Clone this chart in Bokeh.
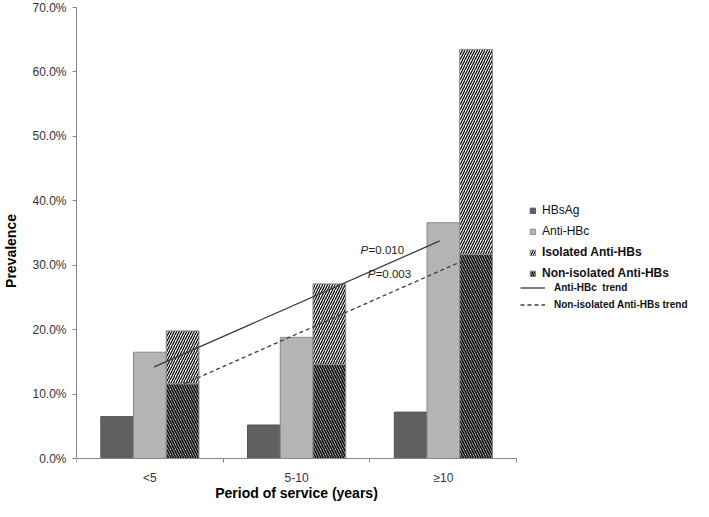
from bokeh.plotting import figure
from bokeh.models import (Range1d, FixedTicker, PrintfTickFormatter, Legend,
                          LegendItem, ColumnDataSource)
from bokeh.core.properties import value
from bokeh.embed import file_html
from bokeh.resources import INLINE
import numpy as np

# ---------------- data ----------------
categories = ["<5", "5-10", "≥10"]
hbsag = [6.5, 5.2, 7.2]
anti_hbc = [16.5, 18.8, 36.6]
non_isolated_anti_hbs = [11.6, 14.6, 31.7]
isolated_anti_hbs = [8.2, 12.5, 31.8]
y_ticks = [0, 10, 20, 30, 40, 50, 60, 70]
p_value_labels = ["=0.010", "=0.003"]

FONT = "Liberation Sans"
W, H = 693, 501
LEFT = 72
CAT_PX = 147.7             # pixel width of one category
Y70_PX, Y0_PX = 7, 458     # figure px of 70% and of 0%
ppu = (Y0_PX - Y70_PX) / 70.0
x_end = (W - LEFT) / CAT_PX
y_hi = 70 + Y70_PX / ppu
y_lo = -(H - Y0_PX) / ppu

p = figure(width=W, height=H, output_backend="svg", toolbar_location=None,
           x_range=Range1d(0, x_end), y_range=Range1d(y_lo, y_hi),
           min_border_left=LEFT, min_border_right=0,
           min_border_top=0, min_border_bottom=0)
p.outline_line_color = None
p.xgrid.grid_line_color = None
p.ygrid.grid_line_color = None
p.background_fill_color = "white"

idx = np.arange(len(categories))
centers = idx + 0.5
bw = 0.223

src = ColumnDataSource(dict(
    x_h=centers - bw, x_a=centers, x_s=centers + bw,
    hbsag=hbsag, anti_hbc=anti_hbc,
    non_iso=non_isolated_anti_hbs, iso=isolated_anti_hbs,
))

OUT = "#8a8a8a"
r_h = p.vbar(x="x_h", top="hbsag", width=bw, source=src,
             fill_color="#606060", line_color="#555555", line_width=1)
r_a = p.vbar(x="x_a", top="anti_hbc", width=bw, source=src,
             fill_color="#b4b4b4", line_color=OUT, line_width=1)
r_non, r_iso = p.vbar_stack(["non_iso", "iso"], x="x_s", width=bw, source=src,
                            fill_color="white", line_color=OUT, line_width=1,
                            hatch_pattern=["\\", "/"], hatch_color="#111111",
                            hatch_scale=[5, 5], hatch_weight=[1.75, 1.3])

# ---------------- trend lines (least-squares over categories) ----------------
sa, ia = np.polyfit(idx, anti_hbc, 1)
sn, inn = np.polyfit(idx, non_isolated_anti_hbs, 1)
tx_a = np.array([0.03, 1.975])
tx_n = np.array([0.19, 2.125])
r_ta = p.line(tx_a + 0.5, ia + sa * tx_a, line_color="#3c3c3c", line_width=1.3)
r_tn = p.line(tx_n + 0.5, inn + sn * tx_n, line_color="#3c3c3c", line_width=1.3,
              line_dash="4 3")

# P-value annotations
pts = ColumnDataSource(dict(x=[1.936, 1.984], y=[32.4, 28.7],
                            p=["P", "P"], rest=p_value_labels))
p.text(x="x", y="y", text="p", source=pts, text_font=value(FONT),
       text_font_size="11.5px", text_font_style="italic", text_color="#222222",
       text_align="left", text_baseline="middle")
p.text(x="x", y="y", text="rest", source=pts, text_font=value(FONT),
       text_font_size="11.5px", text_color="#222222", x_offset=8,
       text_align="left", text_baseline="middle")

# ---------------- axes ----------------
xa = p.xaxis[0]
xa.fixed_location = 0
xa.bounds = (0, 3)
xa.ticker = FixedTicker(ticks=[float(c) for c in centers], minor_ticks=[0, 1, 2, 3])
xa.major_label_overrides = {float(c): cat for c, cat in zip(centers, categories)}
xa.major_tick_out = 0
xa.major_tick_in = 0
xa.minor_tick_out = 4
xa.minor_tick_in = 0
xa.major_label_standoff = 8
xa.axis_label = "Period of service (years)"
xa.axis_label_standoff = -3

ya = p.yaxis[0]
ya.bounds = (0, 70)
ya.ticker = FixedTicker(ticks=y_ticks, minor_ticks=[])
ya.formatter = PrintfTickFormatter(format="%.1f%%")
ya.major_tick_out = 4
ya.major_tick_in = 0
ya.minor_tick_line_color = None
ya.major_label_standoff = 6
ya.axis_label = "Prevalence"
ya.axis_label_standoff = 10

for ax in (xa, ya):
    ax.axis_line_color = "#868686"
    ax.major_tick_line_color = "#868686"
    ax.major_label_text_font = FONT
    ax.major_label_text_font_size = "12px"
    ax.major_label_text_color = "#333333"
    ax.axis_label_text_font = FONT
    ax.axis_label_text_font_style = "bold"
    ax.axis_label_text_font_size = "14px"
    ax.axis_label_text_color = "#000000"
xa.minor_tick_line_color = "#868686"


# ---------------- legends ----------------
def add_legend(items, loc, size, style, gw, gh, lh, standoff):
    lg = Legend(items=items, location=loc, orientation="vertical",
                padding=0, margin=0, spacing=0,
                glyph_width=gw, glyph_height=gh, label_height=lh,
                label_standoff=standoff,
                label_text_font=FONT, label_text_font_size=size,
                label_text_font_style=style, label_text_color="#111111",
                border_line_color=None, background_fill_alpha=0)
    p.add_layout(lg, "center")


add_legend([LegendItem(label="HBsAg", renderers=[r_h]),
            LegendItem(label="Anti-HBc", renderers=[r_a])],
           (453, 259.5), "12px", "normal", 7, 7, 21, 6)
add_legend([LegendItem(label="Isolated Anti-HBs", renderers=[r_iso]),
            LegendItem(label="Non-isolated Anti-HBs", renderers=[r_non])],
           (453, 217.5), "12px", "bold", 7, 7, 21, 6)
add_legend([LegendItem(label="Anti-HBc  trend", renderers=[r_ta]),
            LegendItem(label="Non-isolated Anti-HBs trend", renderers=[r_tn])],
           (444, 188.5), "10px", "bold", 25, 17, 17, 9)

open("out.html", "w").write(file_html(p, INLINE, title="Prevalence"))
